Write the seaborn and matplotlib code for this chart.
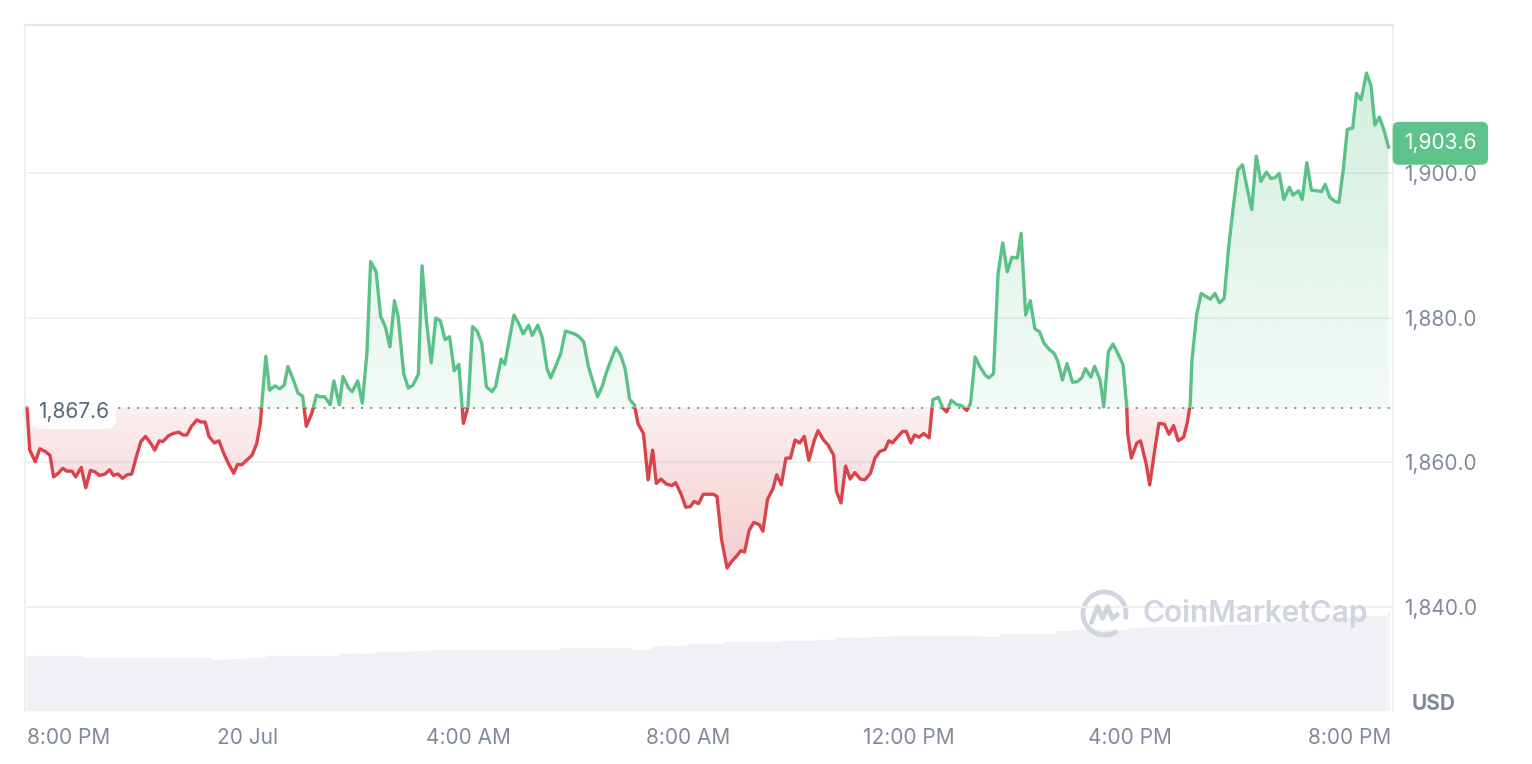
import numpy as np
import pandas as pd
import matplotlib
matplotlib.use('Agg')
import matplotlib.pyplot as plt
import seaborn as sns
from matplotlib.patches import Rectangle, Arc
from matplotlib.lines import Line2D
from matplotlib.colors import to_rgb

# --- Data (minutes after 8:00 PM, 19 Jul) ---
price_minutes = [
    0, 3, 9, 14, 20, 25, 29, 34, 39, 43, 49, 53, 59, 64, 69, 74, 79, 85, 90, 94,
    99, 104, 109, 114, 119, 124, 129, 135, 139, 144, 148, 154, 159, 165, 170, 174, 179, 185, 189, 194,
    198, 204, 209, 214, 219, 225, 229, 234, 239, 245, 250, 254, 256, 260, 264, 270, 275, 280, 284, 290,
    295, 300, 304, 310, 315, 319, 324, 330, 334, 340, 344, 350, 354, 360, 365, 370, 374, 380, 385, 390,
    395, 400, 404, 410, 415, 420, 426, 430, 435, 440, 445, 450, 455, 460, 465, 470, 475, 480, 485, 490,
    495, 500, 506, 510, 516, 520, 525, 530, 535, 540, 546, 550, 556, 561, 566, 570, 576, 581, 586, 591,
    596, 601, 606, 611, 616, 621, 626, 631, 636, 641, 646, 651, 656, 661, 665, 671, 676, 681, 685, 690,
    696, 702, 706, 712, 717, 722, 726, 731, 736, 742, 747, 751, 756, 762, 767, 772, 777, 781, 786, 791,
    797, 801, 806, 812, 816, 821, 826, 831, 836, 841, 846, 851, 857, 861, 867, 872, 878, 881, 886, 891,
    896, 901, 907, 912, 918, 923, 928, 934, 938, 942, 948, 953, 957, 962, 966, 971, 976, 982, 986, 992,
    997, 1001, 1006, 1012, 1017, 1023, 1027, 1032, 1037, 1043, 1047, 1052, 1057, 1062, 1067, 1072, 1078, 1082, 1087, 1092,
    1097, 1102, 1107, 1113, 1118, 1122, 1127, 1132, 1138, 1143, 1148, 1152, 1158, 1162, 1168, 1172, 1177, 1182, 1188, 1193,
    1197, 1198, 1202, 1208, 1212, 1218, 1222, 1228, 1232, 1238, 1243, 1248, 1253, 1259, 1263, 1266, 1268, 1273, 1278, 1283,
    1288, 1293, 1298, 1303, 1308, 1313, 1318, 1323, 1328, 1333, 1338, 1343, 1349, 1354, 1358, 1363, 1368, 1374, 1378, 1384,
    1388, 1393, 1398, 1404, 1409, 1413, 1418, 1424, 1428, 1433, 1437, 1443, 1447, 1452, 1458, 1463, 1467, 1472, 1477, 1482,
]
price_usd = [
    1867.6, 1861.7, 1860.1, 1861.9, 1861.5, 1861.0, 1858.0, 1858.5, 1859.2, 1858.8, 1858.8, 1858.0, 1859.3, 1856.5, 1858.9, 1858.7, 1858.2, 1858.4, 1859.0, 1858.2,
    1858.4, 1857.8, 1858.3, 1858.4, 1860.8, 1862.9, 1863.6, 1862.6, 1861.7, 1863.0, 1862.9, 1863.7, 1864.0, 1864.2, 1863.8, 1863.8, 1865.0, 1865.9, 1865.6, 1865.6,
    1863.6, 1862.7, 1863.0, 1861.3, 1859.9, 1858.5, 1859.7, 1859.7, 1860.3, 1861.0, 1862.6, 1865.4, 1868.7, 1874.7, 1870.0, 1870.6, 1870.2, 1870.7, 1873.3, 1871.4,
    1869.6, 1869.2, 1865.0, 1866.8, 1869.3, 1869.1, 1869.1, 1868.0, 1871.3, 1868.0, 1871.9, 1870.3, 1869.8, 1871.3, 1868.2, 1875.1, 1887.8, 1886.4, 1880.2, 1878.8,
    1876.0, 1882.4, 1880.2, 1872.3, 1870.3, 1870.7, 1872.2, 1887.2, 1879.3, 1873.8, 1880.0, 1879.6, 1877.0, 1877.4, 1872.7, 1873.6, 1865.4, 1867.7, 1878.8, 1878.2,
    1876.5, 1870.5, 1869.8, 1870.5, 1874.3, 1873.6, 1877.0, 1880.4, 1879.3, 1877.8, 1879.0, 1877.6, 1879.0, 1877.2, 1873.0, 1871.7, 1873.5, 1875.1, 1878.2, 1878.0,
    1877.8, 1877.4, 1876.7, 1873.3, 1871.2, 1869.1, 1870.5, 1872.6, 1874.3, 1875.9, 1874.9, 1873.0, 1868.7, 1868.0, 1865.4, 1864.0, 1857.6, 1861.7, 1857.1, 1857.7,
    1857.0, 1856.8, 1857.2, 1855.6, 1853.8, 1853.9, 1854.6, 1854.3, 1855.6, 1855.6, 1855.6, 1855.3, 1849.3, 1845.4, 1846.3, 1847.0, 1847.8, 1847.6, 1850.6, 1851.7,
    1851.4, 1850.5, 1854.9, 1856.4, 1858.3, 1856.9, 1860.6, 1860.6, 1863.1, 1862.7, 1863.6, 1860.3, 1863.1, 1864.4, 1863.1, 1862.4, 1861.0, 1856.0, 1854.4, 1859.5,
    1857.7, 1858.6, 1857.7, 1857.6, 1858.5, 1860.6, 1861.5, 1861.8, 1863.0, 1862.7, 1863.6, 1864.3, 1864.3, 1862.7, 1863.8, 1863.5, 1864.0, 1863.4, 1868.7, 1869.0,
    1867.5, 1867.0, 1868.6, 1868.0, 1867.9, 1867.2, 1868.2, 1874.6, 1873.3, 1872.1, 1871.7, 1872.3, 1886.2, 1890.4, 1886.4, 1888.4, 1888.3, 1891.7, 1880.4, 1882.4,
    1878.5, 1878.1, 1876.5, 1875.6, 1875.1, 1874.0, 1871.4, 1873.7, 1871.1, 1871.2, 1871.7, 1873.0, 1871.8, 1873.3, 1871.4, 1867.7, 1875.3, 1876.4, 1874.9, 1873.5,
    1867.7, 1864.0, 1860.6, 1862.7, 1863.0, 1859.9, 1856.9, 1862.2, 1865.4, 1865.3, 1863.9, 1865.1, 1863.0, 1863.5, 1865.6, 1868.0, 1874.2, 1880.4, 1883.4, 1883.0,
    1882.6, 1883.4, 1882.1, 1882.7, 1889.9, 1895.4, 1900.5, 1901.2, 1898.0, 1895.0, 1902.4, 1898.9, 1900.2, 1899.3, 1899.4, 1900.0, 1896.4, 1898.1, 1897.0, 1897.6,
    1896.4, 1901.5, 1897.7, 1897.6, 1897.5, 1898.5, 1896.7, 1896.1, 1896.0, 1900.9, 1906.1, 1906.3, 1911.1, 1910.2, 1913.9, 1912.1, 1906.7, 1907.8, 1906.0, 1903.6,
]
assert len(price_minutes) == len(price_usd)

open_price = 1867.6

# 24h rolling volume (billion USD), one bar per 20 minutes
volume_bn = [
    5.5, 5.5, 5.5, 5.27, 5.27, 5.27, 5.27, 5.27, 5.27, 5.27,
    5.15, 5.23, 5.3, 5.5, 5.5, 5.5, 5.5, 5.7, 5.7, 5.87,
    5.87, 6.0, 6.07, 6.07, 6.07, 6.07, 6.07, 6.1, 6.15, 6.27,
    6.27, 6.27, 6.27, 6.1, 6.5, 6.5, 6.7, 6.7, 6.87, 6.87,
    6.95, 7.03, 7.05, 7.1, 7.27, 7.27, 7.4, 7.5, 7.5, 7.5,
    7.5, 7.5, 7.4, 7.75, 7.75, 7.75, 8.0, 8.1, 8.1, 8.1,
    8.3, 8.4, 8.4, 8.4, 8.5, 8.6, 8.6, 8.8, 8.9, 9.0,
    9.2, 9.3, 9.5, 9.5,
]
volume_last_bn = 9.8

tick_hours = [0, 4, 8, 12, 16, 20, 24]
tick_labels = ['8:00 PM', '20 Jul', '4:00 AM', '8:00 AM', '12:00 PM', '4:00 PM', '8:00 PM']
price_ticks = [1840, 1860, 1880, 1900]

GREEN = '#5bc287'
RED = '#d9444b'
GREY_TXT = '#808a9d'

df = pd.DataFrame({'hours': np.array(price_minutes) / 60.0, 'price': price_usd})

sns.set_theme(style='white')
plt.rcParams['font.family'] = ['Inter', 'DejaVu Sans']

W_PX, H_PX = 1532, 764
fig = plt.figure(figsize=(W_PX / 100, H_PX / 100), dpi=100)
fig.patch.set_facecolor('white')
ax = fig.add_axes([25 / W_PX, 1 - 711 / H_PX, (1393 - 25) / W_PX, (711 - 25) / H_PX])
axv = ax.twinx()
ax.set_zorder(axv.get_zorder() + 1)
ax.patch.set_visible(False)

# --- volume bars ---
vol_start = np.arange(len(volume_bn)) * 20 / 60.0
axv.bar(vol_start, volume_bn, width=20 / 60.0, align='edge', color='#eff1f5',
        edgecolor='#f4f5f8', linewidth=0.3)
axv.bar([1481 / 60.0], [volume_last_bn], width=3 / 60.0, align='edge', color='#eff1f5', linewidth=0)
axv.set_ylim(0, 68.6)
axv.set_yticks([])
for s in axv.spines.values():
    s.set_visible(False)

# --- price line, green above the open price and red below ---
x0, x1 = df['hours'].min(), df['hours'].max()
pmin, pmax = df['price'].min(), df['price'].max()

sns.lineplot(data=df, x='hours', y='price', ax=ax, color=GREEN, lw=2.4,
             estimator=None, sort=False, zorder=4)
line_up = ax.lines[-1]
sns.lineplot(data=df, x='hours', y='price', ax=ax, color=RED, lw=2.4,
             estimator=None, sort=False, zorder=4)
line_dn = ax.lines[-1]
for ln in (line_up, line_dn):
    ln.set_solid_joinstyle('round')
    ln.set_solid_capstyle('round')
clip_up = Rectangle((-5, open_price), 40, 500, transform=ax.transData)
clip_dn = Rectangle((-5, open_price - 500), 40, 500, transform=ax.transData)
line_up.set_clip_path(clip_up)
line_dn.set_clip_path(clip_dn)

# gradient fills clipped to the area between line and open price
area = ax.fill_between(df['hours'], df['price'], open_price, facecolor='none', edgecolor='none')
area_path = area.get_paths()[0]

g = np.zeros((256, 1, 4))
g[..., :3] = to_rgb(GREEN)
g[:, 0, 3] = np.linspace(0.07, 0.27, 256)
im_up = ax.imshow(g, extent=[x0, x1, open_price, pmax], origin='lower', aspect='auto',
                  interpolation='bilinear', zorder=1)
im_up.set_clip_path(area_path, transform=ax.transData)

r = np.zeros((256, 1, 4))
r[..., :3] = to_rgb(RED)
r[:, 0, 3] = np.linspace(0.27, 0.09, 256)
im_dn = ax.imshow(r, extent=[x0, x1, pmin, open_price], origin='lower', aspect='auto',
                  interpolation='bilinear', zorder=1)
im_dn.set_clip_path(area_path, transform=ax.transData)

# dotted open-price line
ax.axhline(open_price, color='#8a8a8a', lw=1.4, linestyle=(0, (1, 3.8)), zorder=2)

# --- axes styling ---
ax.set_xlim(-0.036, 24.78)
ax.set_ylim(1825.6, 1920.55)
axv.set_xlim(-0.036, 24.78)
ax.yaxis.tick_right()
ax.set_yticks(price_ticks)
ax.set_yticklabels([f'{v:,.1f}' for v in price_ticks])
ax.set_xticks(tick_hours)
ax.set_xticklabels(tick_labels)
ax.get_xticklabels()[0].set_ha('left')
ax.tick_params(axis='y', length=0, pad=8, labelsize=15, labelcolor=GREY_TXT)
ax.tick_params(axis='x', length=0, pad=12, labelsize=15, labelcolor=GREY_TXT)
ax.set_xlabel('')
ax.set_ylabel('')
ax.grid(True, axis='y', color='#f0f0f0', lw=1.4)
ax.grid(False, axis='x')
ax.set_axisbelow(True)
ax.spines['bottom'].set_visible(False)
ax.spines['top'].set_color('#e6e6e6')
ax.spines['top'].set_linewidth(1.5)
ax.spines['left'].set_color('#efefef')
ax.spines['left'].set_linewidth(1.5)
ax.spines['right'].set_color('#eeeeee')
ax.spines['right'].set_linewidth(1.2)

# open price label on the left
ax.annotate(f'{open_price:,.1f}', xy=(0.0095, open_price), xycoords=('axes fraction', 'data'),
            xytext=(0, -3), textcoords='offset points', ha='left', va='center',
            fontsize=15, color='#58667e', zorder=6,
            bbox=dict(boxstyle='round,pad=0.35,rounding_size=0.5', fc='white', ec='none', alpha=0.93))

# last price label on the right
ax.annotate(f'{price_usd[-1]:,.1f}', xy=(1.0, price_usd[-1]), xycoords=('axes fraction', 'data'),
            xytext=(8, 3), textcoords='offset points', ha='left', va='center',
            fontsize=15, color='white', zorder=10, annotation_clip=False,
            bbox=dict(boxstyle='round,pad=0.55,rounding_size=0.3', fc='#5ec38a', ec='none'))

fig.text(1434 / W_PX, 1 - 703.5 / H_PX, 'USD', ha='center', va='center',
         fontsize=15, fontweight='bold', color=GREY_TXT)

# --- watermark ---
WM = '#d0d4e0'
cx, cy, rad = 1104.5, 613.5, 21.5
fig.add_artist(Arc((cx / W_PX, 1 - cy / H_PX), 2 * rad / W_PX, 2 * rad / H_PX,
                   theta1=-30, theta2=290, transform=fig.transFigure, lw=3.4, color=WM))
m_dx = [-13, -7, -2, 3, 8, 13]
m_dy = [9, -7, 5, -7, 5, 1]
fig.add_artist(Line2D([(cx + dx) / W_PX for dx in m_dx], [1 - (cy + dy) / H_PX for dy in m_dy],
                      transform=fig.transFigure, lw=3.4, color=WM,
                      solid_joinstyle='round', solid_capstyle='round'))
fig.text(1142 / W_PX, 1 - 614 / H_PX, 'CoinMarketCap', ha='left', va='center',
         fontsize=21.5, fontweight='semibold', color=WM)

fig.savefig('out.png', dpi=100, facecolor='white')
